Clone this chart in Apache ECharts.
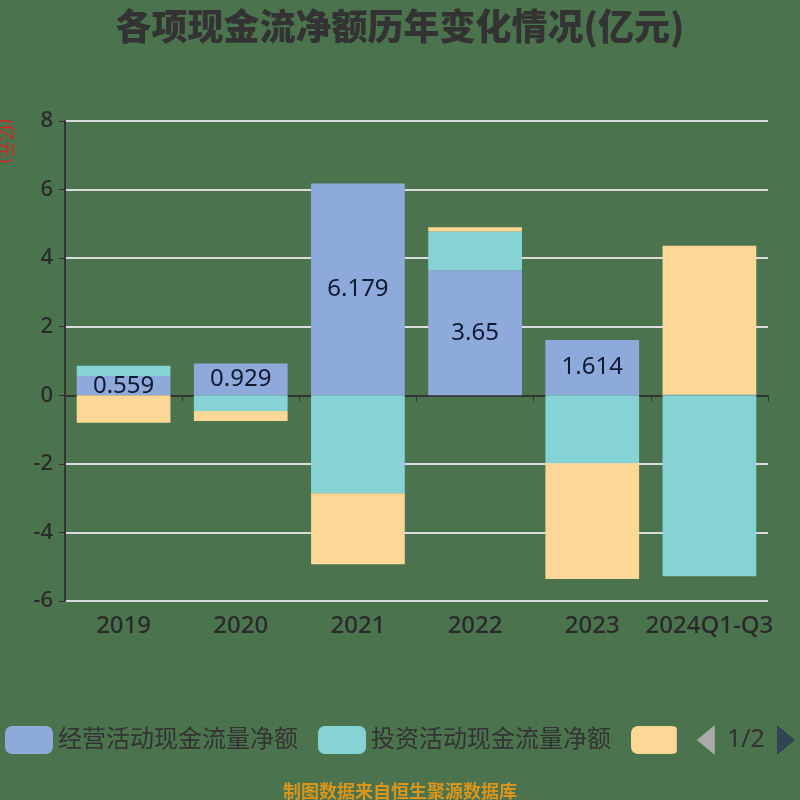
<!DOCTYPE html>
<html>
<head>
<meta charset="utf-8">
<script src="https://cdn.jsdelivr.net/npm/echarts@6/dist/echarts.min.js"></script>
<style>html,body{margin:0;padding:0;background:#4b734d;}#c{width:800px;height:800px;}</style>
</head>
<body>
<div id="c"></div>
<script>
var categories = ['2019', '2020', '2021', '2022', '2023', '2024Q1-Q3'];
var seriesNames = ['经营活动现金流量净额', '投资活动现金流量净额', '筹资活动现金流量净额'];
var operating = [0.559, 0.929, 6.179, 3.65, 1.614, 0.012];
var investing = [0.30, -0.46, -2.86, 1.13, -1.98, -5.28];
var financing = [-0.80, -0.29, -2.07, 0.12, -3.38, 4.35];
var yTicks = { min: -6, max: 8, interval: 2 };

var chart = echarts.init(document.getElementById('c'));
var font = '"Noto Sans", "Noto Sans CJK SC", sans-serif';
chart.setOption({
  backgroundColor: '#4b734d',
  textStyle: { fontFamily: font },
  title: [{
    text: '各项现金流净额历年变化情况(亿元)',
    left: 'center', top: 3,
    textStyle: { fontSize: 36, fontWeight: 900, color: '#333', fontFamily: '"Noto Sans CJK SC", sans-serif' }
  }, {
    text: '制图数据来自恒生聚源数据库',
    left: 'center', top: 777,
    textStyle: { fontSize: 18, fontWeight: 'bold', color: '#d9951c', fontFamily: '"Noto Sans CJK SC", sans-serif' }
  }],
  graphic: [{
    type: 'text', x: 13, y: 119, rotation: -Math.PI / 2,
    style: { text: '(亿元)', fill: '#e02020', fontSize: 17, fontFamily: font }
  }],
  legend: {
    type: 'scroll', left: 0, right: -6, top: 720,
    itemWidth: 48, itemHeight: 28, itemGap: 20,
    textStyle: { fontSize: 24, color: '#333', fontFamily: font },
    pageTextStyle: { fontSize: 25, color: '#333' },
    pageIconSize: [18, 30], pageButtonItemGap: 0, pageButtonGap: 20,
    pageIconColor: '#2f4554', pageIconInactiveColor: '#aaa',
    data: seriesNames
  },
  grid: { left: 65, right: 32, top: 121, bottom: 199 },
  xAxis: {
    type: 'category', data: categories,
    axisLine: { onZero: true, lineStyle: { color: '#333', width: 2 } },
    axisTick: { show: true, length: 6, lineStyle: { color: '#333' } },
    axisLabel: { fontSize: 24, color: '#2a2a2a', fontWeight: 500, margin: 13, interval: 0 }
  },
  yAxis: {
    type: 'value', min: yTicks.min, max: yTicks.max, interval: yTicks.interval,
    axisLine: { show: true, lineStyle: { color: '#333', width: 2 } },
    axisTick: { show: true, length: 6, lineStyle: { color: '#333' } },
    axisLabel: { fontSize: 22, color: '#2a2a2a', fontWeight: 500, margin: 12 },
    splitLine: { lineStyle: { color: '#dcdcdc', width: 2 } }
  },
  series: [{
    name: seriesNames[0], type: 'bar', stack: 'a', barCategoryGap: '20%',
    itemStyle: { color: '#8eaadb' },
    label: { show: true, position: 'inside', fontSize: 24, color: '#111a33' },
    data: operating.map(function (v, i) { return i === 5 ? { value: v, label: { show: false } } : v; })
  }, {
    name: seriesNames[1], type: 'bar', stack: 'a',
    itemStyle: { color: '#86d3d6' },
    data: investing
  }, {
    name: seriesNames[2], type: 'bar', stack: 'a',
    itemStyle: { color: '#fdd795' },
    data: financing
  }]
});
</script>
</body>
</html>
